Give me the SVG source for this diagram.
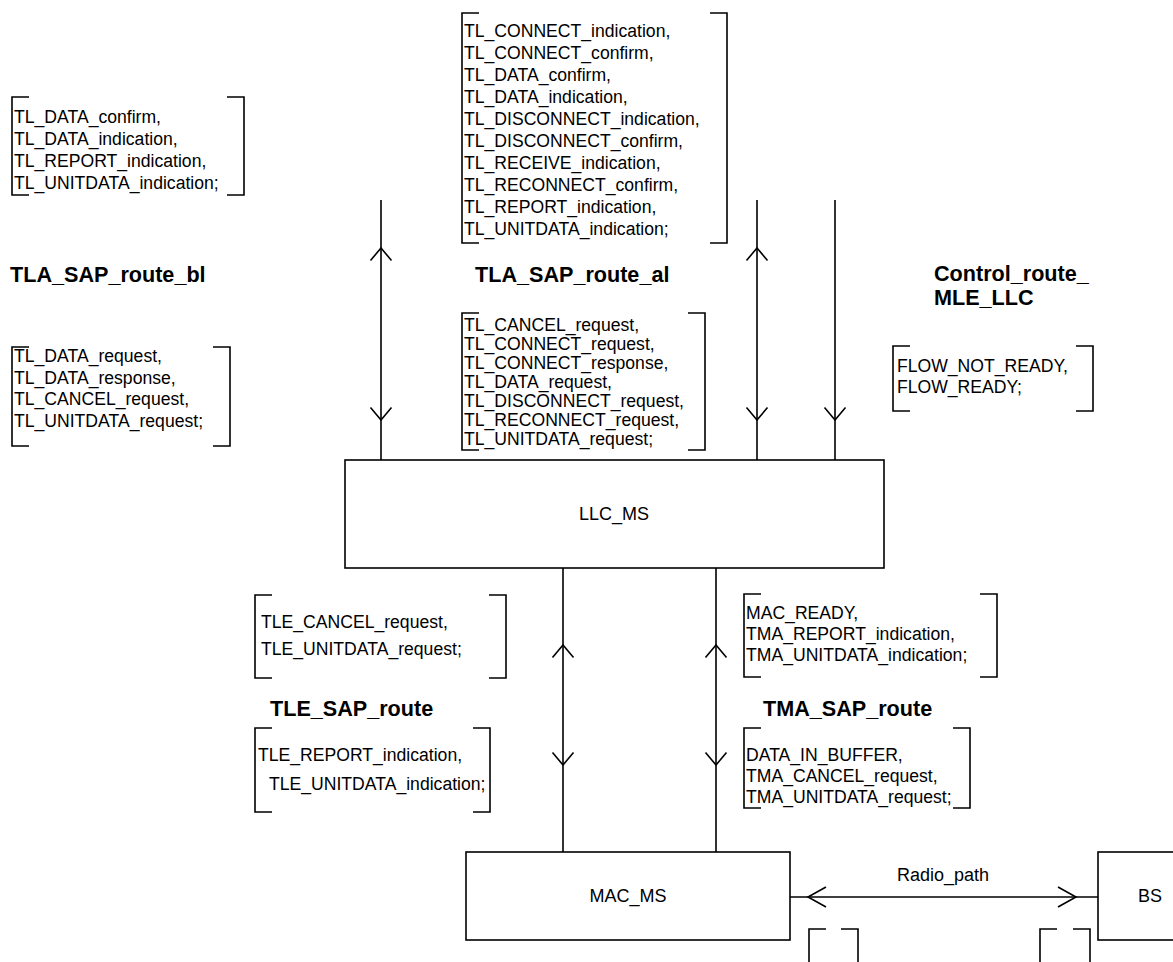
<svg xmlns="http://www.w3.org/2000/svg" width="1173" height="962" viewBox="0 0 1173 962">
<style>
.ln{fill:none;stroke:#000;stroke-width:1.6}
.bx{fill:#fff;stroke:#000;stroke-width:1.6}
.t{font-family:"Liberation Sans",Arial,sans-serif;font-size:17.6px;fill:#000}
.b{font-family:"Liberation Sans",Arial,sans-serif;font-size:21.6px;font-weight:bold;fill:#000}
.c{font-family:"Liberation Sans",Arial,sans-serif;font-size:18px;fill:#000;text-anchor:middle}
</style>
<rect width="1173" height="962" fill="#fff"/>
<g id="connectors">
<path class="ln" d="M381,200V460M757,200V460M835,200V460"/>
<path class="ln" d="M370.5,260.5L381,248L391.5,260.5M746.5,260.5L757,248L767.5,260.5"/>
<path class="ln" d="M370.5,407.5L381,420L391.5,407.5M746.5,407.5L757,420L767.5,407.5M824.5,407.5L835,420L845.5,407.5"/>
<path class="ln" d="M563,568V852M716,568V852"/>
<path class="ln" d="M552.5,657.5L563,645L573.5,657.5M705.5,657.5L716,645L726.5,657.5"/>
<path class="ln" d="M552.5,752.5L563,765L573.5,752.5M705.5,752.5L716,765L726.5,752.5"/>
<path class="ln" d="M790,897H1098"/>
<path class="ln" d="M826,887L808,897L826,907M1058,887L1076,897L1058,907"/>
</g>
<g id="signal-lists">
<g id="sig-tla-bl-in">
<path class="ln" d="M29,97H12V195H29M227,97H244V195H227"/>
<text class="t" x="14" y="123">TL_DATA_confirm,</text>
<text class="t" x="14" y="145">TL_DATA_indication,</text>
<text class="t" x="14" y="167">TL_REPORT_indication,</text>
<text class="t" x="14" y="189">TL_UNITDATA_indication;</text>
</g>
<g id="sig-tla-al-in">
<path class="ln" d="M479,13H462V243H479M710,13H727V243H710"/>
<text class="t" x="464" y="37">TL_CONNECT_indication,</text>
<text class="t" x="464" y="59">TL_CONNECT_confirm,</text>
<text class="t" x="464" y="81">TL_DATA_confirm,</text>
<text class="t" x="464" y="103">TL_DATA_indication,</text>
<text class="t" x="464" y="125">TL_DISCONNECT_indication,</text>
<text class="t" x="464" y="147">TL_DISCONNECT_confirm,</text>
<text class="t" x="464" y="169">TL_RECEIVE_indication,</text>
<text class="t" x="464" y="191">TL_RECONNECT_confirm,</text>
<text class="t" x="464" y="213">TL_REPORT_indication,</text>
<text class="t" x="464" y="235">TL_UNITDATA_indication;</text>
</g>
<g id="sig-tla-bl-out">
<path class="ln" d="M29,347H12V446H29M213,347H230V446H213"/>
<text class="t" x="14" y="362">TL_DATA_request,</text>
<text class="t" x="14" y="384">TL_DATA_response,</text>
<text class="t" x="14" y="405">TL_CANCEL_request,</text>
<text class="t" x="14" y="427">TL_UNITDATA_request;</text>
</g>
<g id="sig-tla-al-out">
<path class="ln" d="M479,313H462V450H479M688,313H705V450H688"/>
<text class="t" x="464" y="331">TL_CANCEL_request,</text>
<text class="t" x="464" y="350">TL_CONNECT_request,</text>
<text class="t" x="464" y="369">TL_CONNECT_response,</text>
<text class="t" x="464" y="388">TL_DATA_request,</text>
<text class="t" x="464" y="407">TL_DISCONNECT_request,</text>
<text class="t" x="464" y="426">TL_RECONNECT_request,</text>
<text class="t" x="464" y="445">TL_UNITDATA_request;</text>
</g>
<g id="sig-control">
<path class="ln" d="M910,346H893V411H910M1076,346H1093V411H1076"/>
<text class="t" x="897" y="372">FLOW_NOT_READY,</text>
<text class="t" x="897" y="393">FLOW_READY;</text>
</g>
<g id="sig-tle-out">
<path class="ln" d="M272,595H255V678H272M489,595H506V678H489"/>
<text class="t" x="261" y="628">TLE_CANCEL_request,</text>
<text class="t" x="261" y="655">TLE_UNITDATA_request;</text>
</g>
<g id="sig-tle-in">
<path class="ln" d="M272,728H255V812H272M473,728H490V812H473"/>
<text class="t" x="258" y="761">TLE_REPORT_indication,</text>
<text class="t" x="269" y="790">TLE_UNITDATA_indication;</text>
</g>
<g id="sig-tma-in">
<path class="ln" d="M761,594H744V677H761M980,594H997V677H980"/>
<text class="t" x="746" y="619">MAC_READY,</text>
<text class="t" x="746" y="640">TMA_REPORT_indication,</text>
<text class="t" x="746" y="661">TMA_UNITDATA_indication;</text>
</g>
<g id="sig-tma-out">
<path class="ln" d="M761,728H744V808H761M953,728H970V808H953"/>
<text class="t" x="746" y="761">DATA_IN_BUFFER,</text>
<text class="t" x="746" y="782">TMA_CANCEL_request,</text>
<text class="t" x="746" y="803">TMA_UNITDATA_request;</text>
</g>
<g id="sig-radio-1">
<path class="ln" d="M826,929H809V965M841,929H858V965"/>
</g>
<g id="sig-radio-2">
<path class="ln" d="M1057,929H1040V965M1073,929H1090V965"/>
</g>
</g>
<g id="labels">
<text class="b" x="10" y="282">TLA_SAP_route_bl</text>
<text class="b" x="475" y="282">TLA_SAP_route_al</text>
<text class="b" x="934" y="281">Control_route_</text>
<text class="b" x="934" y="305">MLE_LLC</text>
<text class="b" x="270" y="716">TLE_SAP_route</text>
<text class="b" x="763" y="716">TMA_SAP_route</text>
<text class="c" x="943" y="881">Radio_path</text>
</g>
<g id="LLC_MS">
<rect class="bx" x="345" y="460" width="539" height="108"/>
<text class="c" x="614" y="520">LLC_MS</text>
</g>
<g id="MAC_MS">
<rect class="bx" x="466" y="852" width="324" height="88"/>
<text class="c" x="628" y="902">MAC_MS</text>
</g>
<g id="BS">
<rect class="bx" x="1098" y="852" width="90" height="88"/>
<text class="c" x="1150" y="902">BS</text>
</g>
</svg>
